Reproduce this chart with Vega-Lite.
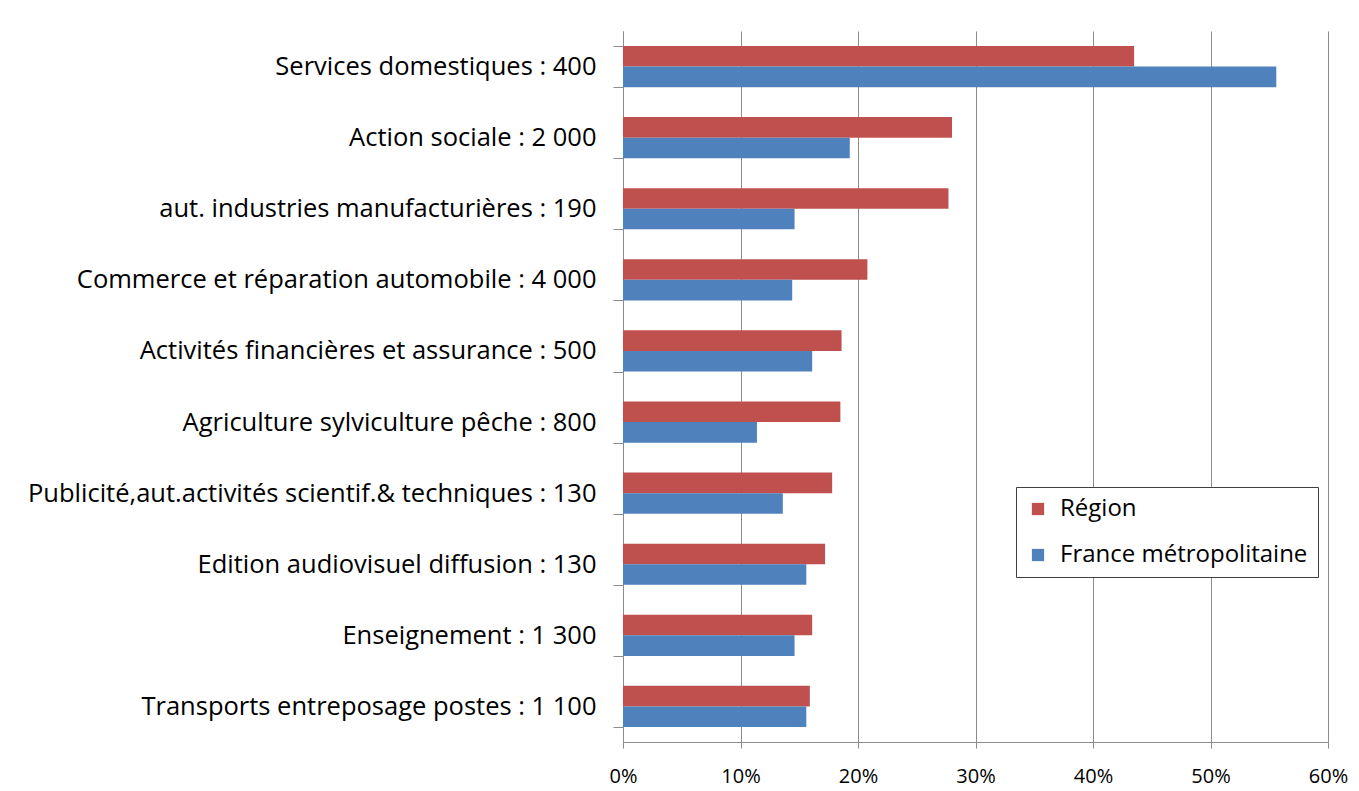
{
  "$schema": "https://vega.github.io/schema/vega-lite/v6.json",
  "autosize": {"type": "none"},
  "padding": {"left": 623, "top": 31, "right": 31, "bottom": 49},
  "width": 705,
  "height": 711,
  "background": "white",
  "data": {
    "values": [
      {"secteur": "Services domestiques : 400", "serie": "Région", "part": 43.5},
      {"secteur": "Services domestiques : 400", "serie": "France métropolitaine", "part": 55.6},
      {"secteur": "Action sociale : 2 000", "serie": "Région", "part": 28.0},
      {"secteur": "Action sociale : 2 000", "serie": "France métropolitaine", "part": 19.3},
      {"secteur": "aut. industries manufacturières : 190", "serie": "Région", "part": 27.7},
      {"secteur": "aut. industries manufacturières : 190", "serie": "France métropolitaine", "part": 14.6},
      {"secteur": "Commerce et réparation automobile : 4 000", "serie": "Région", "part": 20.8},
      {"secteur": "Commerce et réparation automobile : 4 000", "serie": "France métropolitaine", "part": 14.4},
      {"secteur": "Activités financières et assurance : 500", "serie": "Région", "part": 18.6},
      {"secteur": "Activités financières et assurance : 500", "serie": "France métropolitaine", "part": 16.1},
      {"secteur": "Agriculture sylviculture pêche : 800", "serie": "Région", "part": 18.5},
      {"secteur": "Agriculture sylviculture pêche : 800", "serie": "France métropolitaine", "part": 11.4},
      {"secteur": "Publicité,aut.activités scientif.& techniques : 130", "serie": "Région", "part": 17.8},
      {"secteur": "Publicité,aut.activités scientif.& techniques : 130", "serie": "France métropolitaine", "part": 13.6},
      {"secteur": "Edition audiovisuel diffusion : 130", "serie": "Région", "part": 17.2},
      {"secteur": "Edition audiovisuel diffusion : 130", "serie": "France métropolitaine", "part": 15.6},
      {"secteur": "Enseignement : 1 300", "serie": "Région", "part": 16.1},
      {"secteur": "Enseignement : 1 300", "serie": "France métropolitaine", "part": 14.6},
      {"secteur": "Transports entreposage postes : 1 100", "serie": "Région", "part": 15.9},
      {"secteur": "Transports entreposage postes : 1 100", "serie": "France métropolitaine", "part": 15.6}
    ]
  },
  "mark": {"type": "bar"},
  "encoding": {
    "y": {
      "field": "secteur",
      "type": "nominal",
      "sort": null,
      "scale": {"paddingInner": 0.42, "paddingOuter": 0.21},
      "axis": {
        "title": null,
        "tickBand": "extent",
        "tickSize": 10,
        "tickColor": "#8c8c8c",
        "domainColor": "#8c8c8c",
        "labelFont": "Open Sans",
        "labelFontSize": 25.5,
        "labelColor": "black",
        "labelPadding": 17,
        "labelLimit": 0
      }
    },
    "yOffset": {
      "field": "serie",
      "type": "nominal",
      "sort": ["Région", "France métropolitaine"]
    },
    "x": {
      "field": "part",
      "type": "quantitative",
      "scale": {"domain": [0, 60], "nice": false},
      "axis": {
        "title": null,
        "values": [0, 10, 20, 30, 40, 50, 60],
        "labelExpr": "datum.value + '%'",
        "grid": true,
        "gridColor": "#8c8c8c",
        "gridOpacity": 1,
        "tickSize": 6,
        "tickColor": "#8c8c8c",
        "domainColor": "#8c8c8c",
        "labelFont": "Open Sans",
        "labelFontSize": 20,
        "labelColor": "black",
        "labelPadding": 18,
        "labelFlush": false
      }
    },
    "color": {
      "field": "serie",
      "type": "nominal",
      "sort": ["Région", "France métropolitaine"],
      "scale": {"domain": ["Région", "France métropolitaine"], "range": ["#C0504D", "#4F81BD"]},
      "legend": {
        "title": null,
        "orient": "none",
        "legendX": 393,
        "legendY": 456,
        "symbolType": "square",
        "symbolSize": 150,
        "symbolStrokeWidth": 0,
        "labelFont": "Open Sans",
        "labelFontSize": 24,
        "labelLimit": 0,
        "labelColor": "black",
        "labelOffset": 10,
        "rowPadding": 22,
        "padding": 10,
        "strokeColor": "#404040",
        "fillColor": "white"
      }
    }
  },
  "config": {"view": {"stroke": null}}
}
